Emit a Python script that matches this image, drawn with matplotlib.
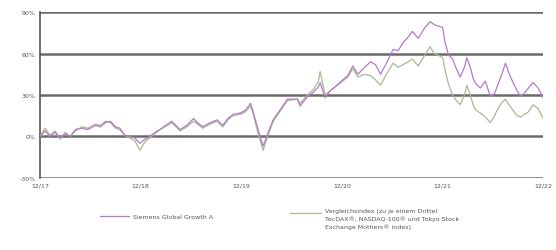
import matplotlib
matplotlib.use("Agg")
import matplotlib.pyplot as plt
from matplotlib.lines import Line2D

# ----------------------------------------------------------------------------------------------------------------------
# Data (Months Since 12/17, Performance In %)
months = [0, 0.6, 1.2, 1.8, 2.4, 3.0, 3.6, 4.2, 5.0, 5.7, 6.6, 7.2, 7.8, 8.4, 9.0, 9.5, 10.1, 10.7, 11.3, 11.9,
          12.5, 13.1, 13.7, 14.3, 15.2, 15.7, 16.7, 17.5, 18.3, 18.8, 19.4, 20.3, 21.1, 21.8, 22.4, 23.0, 23.9, 24.5,
          25.1, 25.4, 26.0, 26.6, 27.2, 27.8, 28.6, 29.5, 30.7, 31.0, 31.9, 32.6, 33.2, 33.4, 34.0, 34.6, 35.2, 36.1,
          36.7, 37.3, 37.9, 38.7, 39.4, 40.0, 40.6, 41.3, 42.1, 42.7, 43.3, 43.9, 44.4, 45.1, 45.8, 46.5, 47.0, 47.4,
          48.0, 48.3, 48.7, 49.2, 49.5, 50.1, 50.6, 50.9, 51.3, 51.7, 52.0, 52.5, 53.1, 53.7, 54.2, 54.5, 55.0, 55.5,
          55.9, 56.4, 56.9, 57.3, 57.7, 58.1, 58.5, 58.8, 59.4, 60.0]

fund = [0, 4, 0, 3, -1, 2, 0, 5, 6, 5, 8, 7, 10, 11, 7, 6, 1, 0, -1, -5,
        -2, 0, 3, 5, 9, 11, 5, 8, 13, 10, 7, 10, 12, 8, 13, 16, 17, 19,
        24, 18, 5, -7, 3, 12, 19, 27, 27, 22, 29, 32, 36, 39, 28, 33, 36, 41,
        44, 51, 45, 50, 54, 52, 45, 53, 63, 62, 68, 72, 76, 71, 78, 83, 81, 80,
        79, 68, 59, 56, 51, 43, 50, 57, 50, 41, 38, 35, 40, 29, 31, 36, 44, 53,
        46, 39, 33, 29, 31, 34, 37, 39, 35, 28]

index = [0, 6, 1, 4, -2, 3, 0, 4, 7, 6, 9, 8, 11, 10, 6, 5, 1, -1, -3, -10,
         -4, -1, 2, 5, 8, 10, 4, 7, 11, 9, 6, 9, 11, 7, 12, 15, 16, 18,
         22, 17, 2, -10, 1, 11, 18, 26, 27, 24, 30, 34, 40, 47, 30, 33, 36, 40,
         43, 49, 43, 45, 44, 41, 37, 45, 53, 50, 52, 54, 56, 51, 58, 65, 60, 59,
         57, 48, 38, 30, 27, 23, 30, 37, 30, 22, 19, 17, 14, 10, 15, 19, 24, 27,
         23, 19, 15, 14, 16, 17, 20, 23, 20, 13]

x_ticks  = [0, 12, 24, 36, 48, 60]
x_labels = ["12/17", "12/18", "12/19", "12/20", "12/21", "12/22"]
y_ticks  = [-30, 0, 30, 60, 90]

fund_label  = "Siemens Global Growth A"
index_label = ("Vergleichsindex (zu je einem Drittel\n"
               "TecDAX®, NASDAQ-100® und Tokyo Stock\n"
               "Exchange Mothers® index)")
# ----------------------------------------------------------------------------------------------------------------------

FUND_COL  = "#b57ac6"
INDEX_COL = "#a9b894"
TEXT_COL  = "#555555"

fig = plt.figure(figsize=(5.56, 2.51), dpi=100)
ax  = fig.add_axes([0.072, 0.287, 0.905, 0.661])

# Gridlines Drawn As Thick Horizontal Bars
for yv in y_ticks:
    ax.axhline(yv, color="#6a6a6a", lw=1.8, zorder=1)

# Plot Both Series
ax.plot(months, index, color=INDEX_COL, lw=0.9, zorder=3)
ax.plot(months, fund,  color=FUND_COL,  lw=0.9, zorder=4)

# Axis Styling
ax.set_xlim(0, 60)
ax.set_ylim(-30, 90)
ax.set_xticks(x_ticks)
ax.set_xticklabels(x_labels)
ax.set_yticks(y_ticks)
ax.set_yticklabels([f"{v}%" for v in y_ticks])
ax.tick_params(axis="both", length=0, labelsize=4.5, colors=TEXT_COL, pad=3)
for side in ["top", "right", "bottom"]:
    ax.spines[side].set_visible(False)
ax.spines["left"].set_color("#555555")
ax.spines["left"].set_linewidth(1.2)

# Legend Built By Hand Below The Chart
fig.add_artist(Line2D([0.180, 0.232], [0.135, 0.135], color=FUND_COL, lw=0.9, transform=fig.transFigure))
fig.text(0.240, 0.135, fund_label, fontsize=4.5, color=TEXT_COL, va="center")

fig.add_artist(Line2D([0.522, 0.578], [0.148, 0.148], color=INDEX_COL, lw=0.9, transform=fig.transFigure))
fig.text(0.585, 0.168, index_label, fontsize=4.5, color=TEXT_COL, va="top", linespacing=1.55)

plt.savefig("out.png", dpi=100)
